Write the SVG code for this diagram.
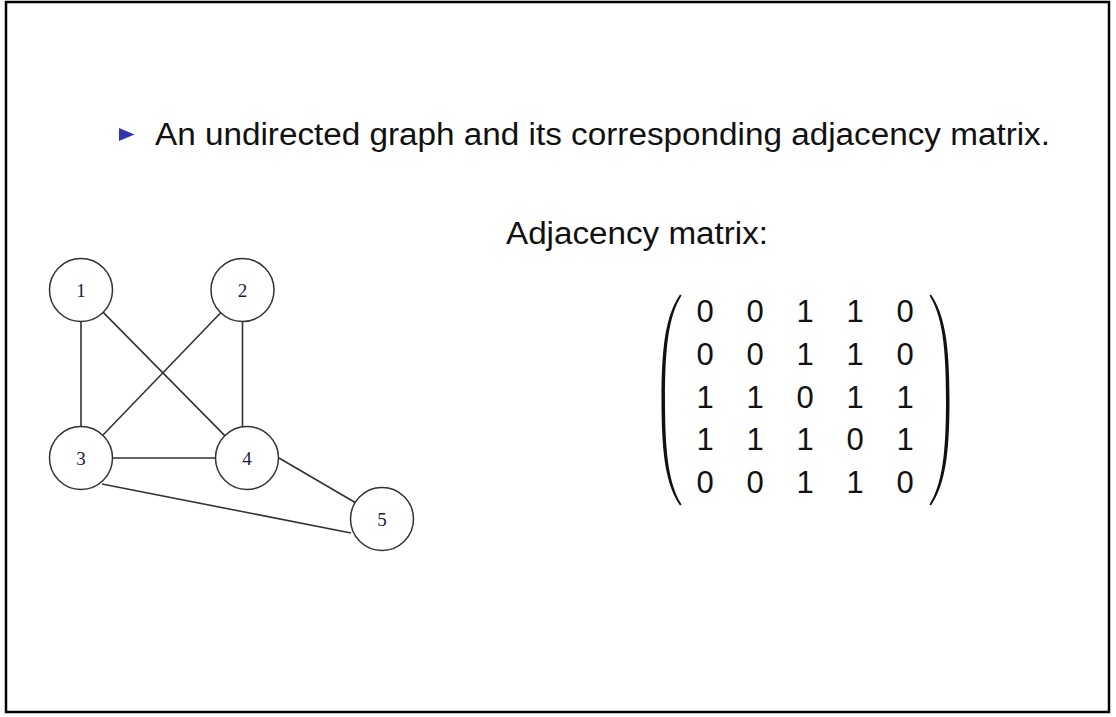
<svg xmlns="http://www.w3.org/2000/svg" width="1116" height="717" viewBox="0 0 1116 717">
<style>
.txt{font-family:"Liberation Sans",Arial,sans-serif;fill:#111;}
.num{font-family:"Liberation Sans",Arial,sans-serif;fill:#111;font-size:31px;text-anchor:middle;}
.node circle{fill:#fff;stroke:#333;stroke-width:1.5;}
.node text{font-family:"Liberation Serif","Times New Roman",serif;font-size:19px;fill:#1a1a40;text-anchor:middle;}
.edges line{stroke:#333;stroke-width:1.6;}
.paren{fill:#111;}
</style>
<rect x="0" y="0" width="1116" height="717" fill="#fff"/>
<rect x="6" y="2" width="1103" height="710" fill="none" stroke="#000" stroke-width="2.5"/>
<polygon points="119,128 134.5,134.5 119,141" fill="#3333b2"/>
<text class="txt" x="155" y="144.5" font-size="31" textLength="895" lengthAdjust="spacingAndGlyphs">An undirected graph and its corresponding adjacency matrix.</text>
<text class="txt" x="506" y="243.5" font-size="31" textLength="262" lengthAdjust="spacingAndGlyphs">Adjacency matrix:</text>
<g id="edges" class="edges">
<line x1="81" y1="321.5" x2="81" y2="426.5"/>
<line x1="103.2" y1="312.4" x2="224.8" y2="435.6"/>
<line x1="220.7" y1="312.7" x2="102.8" y2="435.3"/>
<line x1="242.5" y1="321.5" x2="242.5" y2="427"/>
<line x1="112.5" y1="458" x2="215.5" y2="458"/>
<line x1="102" y1="484" x2="351" y2="533"/>
<line x1="279" y1="458" x2="356" y2="503"/>
</g>
<g id="node1" class="node"><circle cx="81" cy="290" r="31.5"/><text x="81" y="297">1</text></g>
<g id="node2" class="node"><circle cx="242.5" cy="290" r="31.5"/><text x="242.5" y="297">2</text></g>
<g id="node3" class="node"><circle cx="81" cy="458" r="31.5"/><text x="81" y="465">3</text></g>
<g id="node4" class="node"><circle cx="247" cy="458" r="31.5"/><text x="247" y="465">4</text></g>
<g id="node5" class="node"><circle cx="382" cy="519" r="31.5"/><text x="382" y="526">5</text></g>
<g id="matrix">
<path class="paren" d="M680,294.5 C666,315 661.5,345 661.5,400 C661.5,455 666,485 680,505.5 L681.5,504.5 C669,484 665,455 665,400 C665,345 669,316 681.5,295.5 Z"/>
<path class="paren" transform="translate(1611,0) scale(-1,1)" d="M680,294.5 C666,315 661.5,345 661.5,400 C661.5,455 666,485 680,505.5 L681.5,504.5 C669,484 665,455 665,400 C665,345 669,316 681.5,295.5 Z"/>
<text class="num" y="322"><tspan x="705">0</tspan><tspan x="755">0</tspan><tspan x="805">1</tspan><tspan x="855">1</tspan><tspan x="905">0</tspan></text>
<text class="num" y="365"><tspan x="705">0</tspan><tspan x="755">0</tspan><tspan x="805">1</tspan><tspan x="855">1</tspan><tspan x="905">0</tspan></text>
<text class="num" y="407.5"><tspan x="705">1</tspan><tspan x="755">1</tspan><tspan x="805">0</tspan><tspan x="855">1</tspan><tspan x="905">1</tspan></text>
<text class="num" y="450"><tspan x="705">1</tspan><tspan x="755">1</tspan><tspan x="805">1</tspan><tspan x="855">0</tspan><tspan x="905">1</tspan></text>
<text class="num" y="493"><tspan x="705">0</tspan><tspan x="755">0</tspan><tspan x="805">1</tspan><tspan x="855">1</tspan><tspan x="905">0</tspan></text>
</g>
</svg>
